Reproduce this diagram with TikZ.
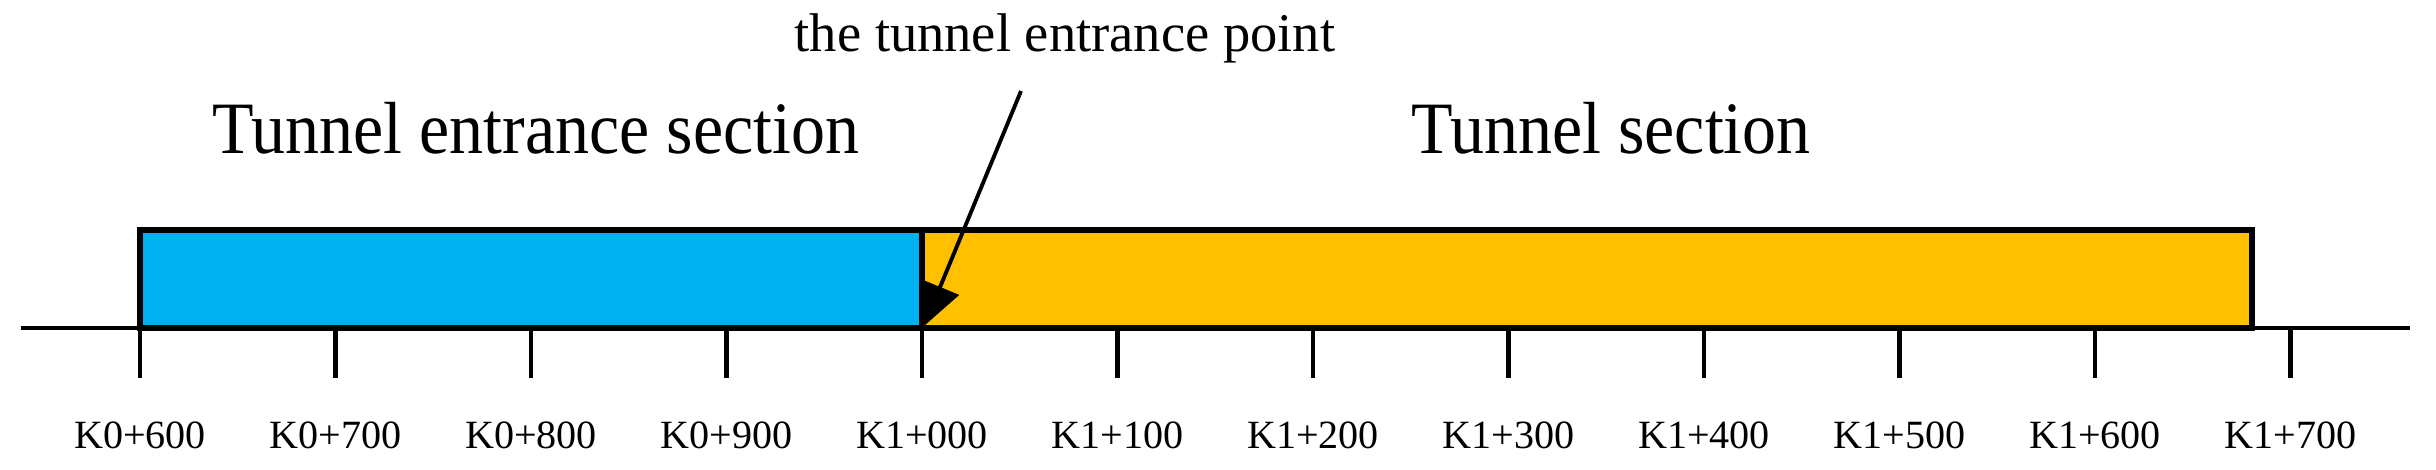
\documentclass[tikz,border=0pt]{standalone}
\usepackage{fontspec}
\setmainfont{Liberation Serif}
\usetikzlibrary{arrows.meta}
\definecolor{entblue}{HTML}{00B0F0}
\definecolor{tungold}{HTML}{FFC000}
\begin{document}
\begin{tikzpicture}[x=0.01cm,y=-0.01cm,
  sectionbox/.style={draw=black,line width=1.45pt,line join=miter},
  axisline/.style={line width=1.3pt},
  tickline/.style={line width=1.25pt},
  ticklabel/.style={anchor=base,inner sep=0pt,font=\fontsize{11.4pt}{13pt}\selectfont},
  biglabel/.style={anchor=base,inner sep=0pt,font=\fontsize{21pt}{24pt}\selectfont},
  pointlabel/.style={anchor=base,inner sep=0pt,font=\fontsize{15.5pt}{18pt}\selectfont},
  pointer/.style={line width=1.1pt,-{Triangle[length=12pt,width=11.5pt]}}]
\useasboundingbox (0,0) rectangle (2436,470);
% sections
\fill[entblue] (140,230) rectangle (922,328);
\fill[tungold] (922,230) rectangle (2252,328);
% axis
\coordinate (axL) at (21,328);
\coordinate (axR) at (2410,328);
\draw[axisline] (axL) -- (axR);
% ticks and labels
\foreach \i/\lab in {0/K0+600,1/K0+700,2/K0+800,3/K0+900,4/K1+000,5/K1+100,6/K1+200,7/K1+300,8/K1+400,9/K1+500,10/K1+600,11/K1+700}{
  \coordinate (t\i) at ({140+195.5*\i},328);
  \draw[tickline] (t\i) -- ++(0,50);
  \node[ticklabel] (l\i) at ({140+195.5*\i},448) {\lab};
}
% section borders
\draw[sectionbox] (140,230) rectangle (922,328);
\draw[sectionbox] (922,230) rectangle (2252,328);
% labels
\node[biglabel] (entlbl) at (536,154) {\scalebox{0.92}[1]{Tunnel entrance section}};
\node[biglabel] (tunlbl) at (1611,154) {\scalebox{0.92}[1]{Tunnel section}};
\node[pointlabel] (ptlbl) at (1065,52) {the tunnel entrance point};
% pointer
\coordinate (tail) at (1021,91);
\coordinate (tip) at (924,326);
\draw[pointer] (tail) -- (tip);
\end{tikzpicture}
\end{document}
